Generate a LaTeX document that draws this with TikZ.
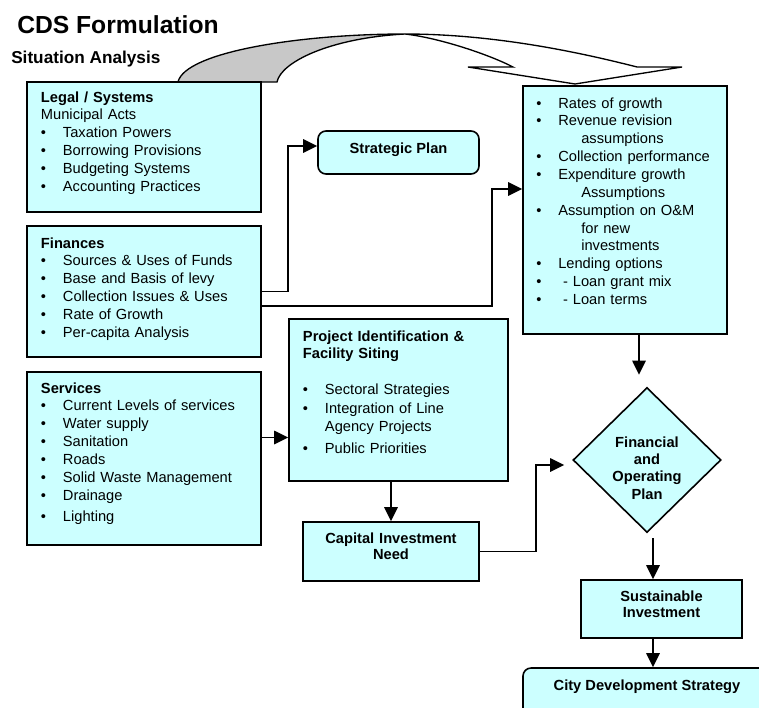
\documentclass[tikz,border=0pt]{standalone}
\usepackage{fontspec}
\setmainfont{Liberation Sans}
\usetikzlibrary{arrows.meta,positioning,shapes.geometric,calc}
\definecolor{blkfill}{RGB}{204,255,255}
\definecolor{foldgrey}{RGB}{200,200,200}
\newcommand{\bul}{\makebox[16.5pt][l]{\textbullet}}
\newcommand{\cont}{\hspace*{33.75pt}}

\begin{document}
\begin{tikzpicture}[x=0.75pt,y=-0.75pt,>={Triangle[length=10.5pt,width=10pt]},
  blk/.style={draw,fill=blkfill,line width=1.2pt,inner sep=0pt},
  listtxt/.style={anchor=base west,inner sep=0pt,text width=#1,align=left,font=\fontsize{11}{13.4}\selectfont},
  headtxt/.style={align=center,font=\fontsize{11}{12.3}\selectfont\bfseries,text height=8pt},
  arr/.style={->,line width=1.3pt}]
\useasboundingbox (0,0) rectangle (759,707);

% turning arrow over the top
\filldraw[fill=white,line width=1pt] (405,34) .. controls (500,34) and (590,55) .. (637,67) -- (682,67) -- (575,84) -- (468,67) -- (513,67) .. controls (490,55) and (440,38) .. (405,34) -- cycle;
\filldraw[fill=foldgrey,line width=1pt] (178,82) .. controls (185,52) and (300,34) .. (405,34) .. controls (330,38) and (281,62) .. (277,82) -- cycle;

\node[anchor=base west,inner sep=0pt,font=\fontsize{18.5}{22}\selectfont\bfseries] (title) at (17,33) {CDS Formulation};
\node[anchor=base west,inner sep=0pt,font=\fontsize{12.9}{15}\selectfont\bfseries] (sitn) at (11,63) {Situation Analysis};

% left column
\node[blk,minimum width=175.5pt,minimum height=97.5pt] (legal) at (144,147) {};
\node[listtxt=170pt] (legaltxt) at (40.7,102) {\textbf{Legal / Systems}\\Municipal Acts\\\bul Taxation Powers\\\bul Borrowing Provisions\\\bul Budgeting Systems\\\bul Accounting Practices};
\node[blk,minimum width=175.5pt,minimum height=98.25pt] (fin) at (144,291.5) {};
\node[listtxt=170pt] (fintxt) at (40.7,248) {\textbf{Finances}\\\bul Sources \& Uses of Funds\\\bul Base and Basis of levy\\\bul Collection Issues \& Uses\\\bul Rate of Growth\\\bul Per-capita Analysis};
\node[blk,minimum width=175.5pt,minimum height=129.75pt] (svc) at (144,458.5) {};
\node[listtxt=170pt] (svctxt) at (40.7,393) {\textbf{Services}\\\bul Current Levels of services\\\bul Water supply\\\bul Sanitation\\\bul Roads\\\bul Solid Waste Management\\\bul Drainage\\[2.5pt]\bul Lighting};

% middle column
\node[blk,rounded corners=6pt,minimum width=120.75pt,minimum height=32.25pt,headtxt,text depth=7.25pt] (strat) at (398.5,152.5) {Strategic Plan};
\node[blk,minimum width=164.25pt,minimum height=121.5pt] (proj) at (398.5,400) {};
\node[listtxt=155pt] (projtxt) at (302.7,341) {\textbf{Project Identification \&}\\\textbf{Facility Siting}\\[13pt]\bul Sectoral Strategies\\[1pt]\bul Integration of Line\\\hspace*{16.5pt}Agency Projects\\[3pt]\bul Public Priorities};
\node[blk,minimum width=132pt,minimum height=44.25pt,headtxt,text width=125pt,text depth=20.75pt] (cap) at (391,551.5) {Capital Investment\\Need};

% right column
\node[blk,minimum width=153pt,minimum height=186pt] (rb) at (625,210) {};
\node[listtxt=145pt] (rbtxt) at (536,108) {\bul Rates of growth\\\bul Revenue revision\\\cont assumptions\\\bul Collection performance\\\bul Expenditure growth\\\cont Assumptions\\\bul Assumption on O\&M\\\cont for new\\\cont investments\\\bul Lending options\\\bul\ - Loan grant mix\\\bul\ - Loan terms};
\node[diamond,blk,aspect=1,minimum width=111pt,minimum height=108.75pt,align=center,text width=62pt,font=\fontsize{11}{13}\selectfont\bfseries,text height=8pt,text depth=27.5pt] (fop) at (647,460) {Financial\\and\\Operating\\Plan};
\node[blk,minimum width=120.75pt,minimum height=43.5pt,headtxt,text width=115pt,text depth=20pt] (sust) at (661.5,609) {Sustainable\\Investment};
\node[blk,rounded corners=6pt,minimum width=186pt,minimum height=45pt,headtxt,text depth=20pt] (city) at (647,698) {City Development Strategy};

% connectors
\draw[arr] (fin.east) -| ($(strat.west)+(-29,-6.5)$) -- ($(strat.west)+(0,-6.5)$);
\draw[arr] ($(fin.east)+(0,14.5)$) -| ($(rb.west)+(-30,-21)$) -- ($(rb.west)+(0,-21)$);
\coordinate (svcout) at ($(svc.east)+(0,-21)$);
\draw[arr] (svcout) -- (svcout -| proj.west);
\draw[arr] (proj.south -| cap.north) -- (cap.north);
\draw[arr] (cap.east) -| ($(fop.west)+(-36,5)$) -- ($(fop.west)+(-8,5)$);
\coordinate (fopin) at ($(fop.north)+(-8,-12)$);
\draw[arr] (rb.south -| fopin) -- (fopin);
\coordinate (fopout) at ($(fop.south)+(6,5)$);
\draw[arr] (fopout) -- (fopout |- sust.north);
\draw[arr] (sust.south -| fopout) -- (fopout |- city.north);
\end{tikzpicture}
\end{document}
